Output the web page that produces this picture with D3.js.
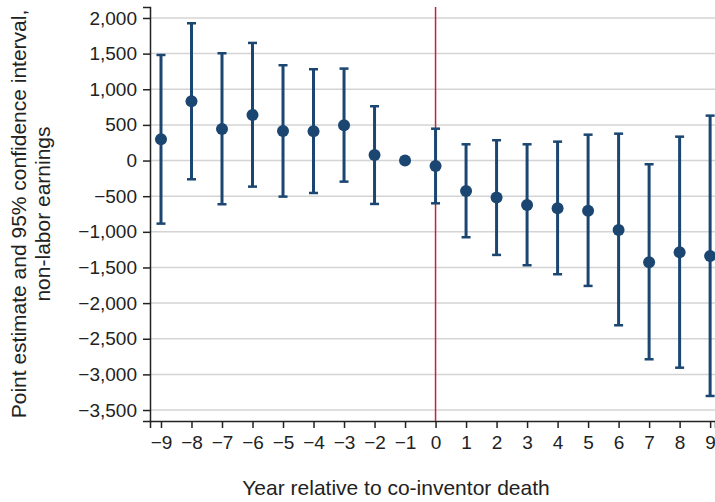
<!DOCTYPE html>
<html>
<head>
<meta charset="utf-8">
<script src="https://cdn.jsdelivr.net/npm/d3@7"></script>
<style>
body { margin: 0; background: #fff; }
text { font-family: "Liberation Sans", Arial, sans-serif; fill: #222; }
</style>
</head>
<body>
<script>
const width = 715, height = 502;
const margin = {top: 7, right: 0, bottom: 81, left: 150};

// event-time years
const years = [-9,-8,-7,-6,-5,-4,-3,-2,-1,0,1,2,3,4,5,6,7,8,9];
// point estimates
const estimate = [299,832,443,640,415,411,495,79,0,-76,-427,-520,-623,-669,-703,-974,-1427,-1287,-1339];
// 95% CI bounds (year -1 is the omitted reference year)
const ciLow = [-885,-263,-613,-366,-506,-455,-296,-609,null,-600,-1076,-1324,-1469,-1595,-1759,-2311,-2788,-2906,-3303];
const ciHigh = [1481,1926,1505,1650,1337,1281,1290,762,null,447,228,285,228,265,363,377,-52,335,630];
const yTicks = [2000,1500,1000,500,0,-500,-1000,-1500,-2000,-2500,-3000,-3500];

const rows = years.map((yr, i) => ({yr, est: estimate[i], lo: ciLow[i], hi: ciHigh[i]}));

const svg = d3.select("body").append("svg")
    .attr("width", width)
    .attr("height", height);

const x = d3.scaleLinear()
    .domain([-9.36, 9.16])
    .range([margin.left, width - margin.right]);

const y = d3.scaleLinear()
    .domain([-3654, 2154])
    .range([height - margin.bottom, margin.top]);

const navy = "#1b4671";

// gridlines
svg.append("g")
    .selectAll("line")
    .data(yTicks)
    .join("line")
    .attr("x1", margin.left)
    .attr("x2", width - margin.right)
    .attr("y1", d => y(d))
    .attr("y2", d => y(d))
    .attr("stroke", "#d4d4d4")
    .attr("stroke-width", 1.5);

// y axis
const yAxis = svg.append("g")
    .attr("transform", `translate(${margin.left},0)`)
    .call(d3.axisLeft(y).tickValues(yTicks).tickFormat(d3.format(",")).tickSize(7).tickPadding(6));
yAxis.select(".domain").attr("stroke", "#222").attr("stroke-width", 1.5);
yAxis.selectAll(".tick line").attr("stroke", "#222").attr("stroke-width", 1.5);
yAxis.selectAll("text").attr("font-size", 19).style("font-family", "Liberation Sans, Arial, sans-serif").attr("fill", "#222");

// x axis
const xAxis = svg.append("g")
    .attr("transform", `translate(0,${height - margin.bottom})`)
    .call(d3.axisBottom(x).tickValues(years).tickFormat(d3.format("d")).tickSize(7).tickPadding(8));
xAxis.select(".domain").attr("stroke", "#222").attr("stroke-width", 1.5);
xAxis.selectAll(".tick line").attr("stroke", "#222").attr("stroke-width", 1.5);
xAxis.selectAll("text").attr("font-size", 19).style("font-family", "Liberation Sans, Arial, sans-serif").attr("fill", "#222");

// event line at year 0
svg.append("line")
    .attr("x1", x(0)).attr("x2", x(0))
    .attr("y1", margin.top).attr("y2", height - margin.bottom)
    .attr("stroke", "#c8203c")
    .attr("stroke-width", 1.5);

// error bars
const withCI = rows.filter(d => d.lo !== null);
const bars = svg.append("g").selectAll("g")
    .data(withCI)
    .join("g");

bars.append("line")
    .attr("x1", d => x(d.yr)).attr("x2", d => x(d.yr))
    .attr("y1", d => y(d.lo)).attr("y2", d => y(d.hi))
    .attr("stroke", navy).attr("stroke-width", 3);

bars.selectAll(".cap")
    .data(d => [{yr: d.yr, v: d.lo}, {yr: d.yr, v: d.hi}])
    .join("line")
    .attr("class", "cap")
    .attr("x1", d => x(d.yr) - 4.5).attr("x2", d => x(d.yr) + 4.5)
    .attr("y1", d => y(d.v)).attr("y2", d => y(d.v))
    .attr("stroke", navy).attr("stroke-width", 2.5);

// points
svg.append("g").selectAll("circle")
    .data(rows)
    .join("circle")
    .attr("cx", d => x(d.yr))
    .attr("cy", d => y(d.est))
    .attr("r", 6)
    .attr("fill", navy);

// axis titles
svg.append("text")
    .attr("x", 396).attr("y", 495)
    .attr("text-anchor", "middle")
    .attr("font-size", 21)
    .text("Year relative to co-inventor death");

const yTitle = svg.append("text")
    .attr("transform", `translate(0,${(margin.top + height - margin.bottom) / 2}) rotate(-90)`)
    .attr("text-anchor", "middle")
    .attr("font-size", 21);
yTitle.append("tspan").attr("x", 0).attr("y", 26).text("Point estimate and 95% confidence interval,");
yTitle.append("tspan").attr("x", 0).attr("y", 50).text("non-labor earnings");
</script>
</body>
</html>
